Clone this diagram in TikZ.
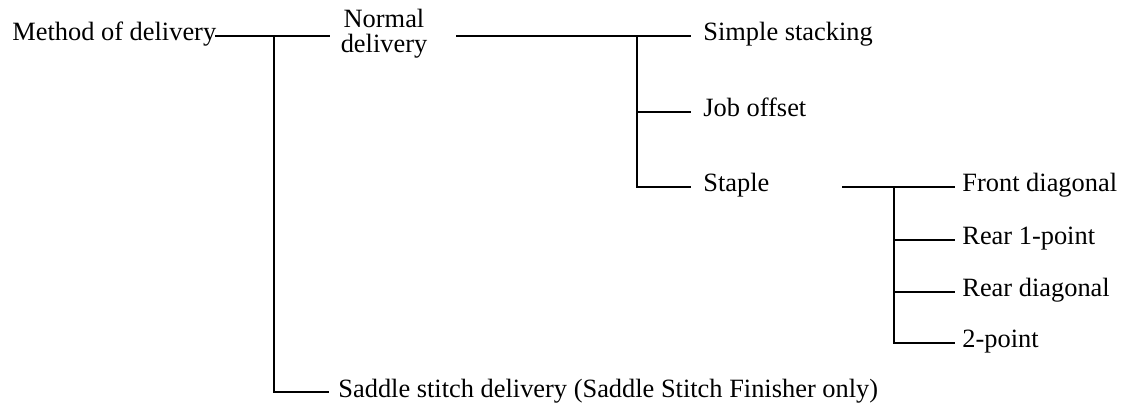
\documentclass[tikz,border=0pt]{standalone}
\usepackage{fontspec}
\setmainfont{Liberation Serif}
\begin{document}
\begin{tikzpicture}[x=0.5pt,y=-0.5pt,
  lbl/.style={font=\fontsize{13.2}{11.5}\selectfont, inner sep=0pt, anchor=base west},
  conn/.style={line width=1.1pt, line cap=rect}]
\useasboundingbox (0,0) rectangle (1125,406);
% labels
\node[lbl] (method) at (12,41) {Method of delivery};
\node[font=\fontsize{13.2}{12.6}\selectfont, inner sep=0pt, align=center] (normal) at (384,34) {Normal\\delivery};
\node[lbl] (simple) at (703,41) {Simple stacking};
\node[lbl] (job) at (703,117) {Job offset};
\node[lbl] (staple) at (703,192) {Staple};
\node[lbl] (front) at (962,192) {Front diagonal};
\node[lbl] (rear1) at (962,245) {Rear 1-point};
\node[lbl] (reard) at (962,297) {Rear diagonal};
\node[lbl] (two) at (962,348) {2-point};
\node[lbl] (saddle) at (338,397) {Saddle stitch delivery (Saddle Stitch Finisher only)};
% junctions and line ends
\coordinate (m1) at (216,36);
\coordinate (j1) at (274,36);
\coordinate (n1) at (329,36);
\coordinate (s1) at (328,392);
\coordinate (n2) at (457,36);
\coordinate (j2) at (637,36);
\coordinate (e2) at (690,36);
\coordinate (jo) at (690,112);
\coordinate (st) at (690,187);
\coordinate (t1) at (843,187);
\coordinate (j3) at (894,187);
\coordinate (f1) at (954,187);
\coordinate (r1) at (954,240);
\coordinate (rd) at (954,292);
\coordinate (tp) at (954,343);
% connectors
\draw[conn] (m1) -- (n1);
\draw[conn] (j1) |- (s1);
\draw[conn] (n2) -- (e2);
\draw[conn] (j2) |- (st);
\draw[conn] (j2 |- jo) -- (jo);
\draw[conn] (t1) -- (f1);
\draw[conn] (j3) |- (tp);
\draw[conn] (j3 |- r1) -- (r1);
\draw[conn] (j3 |- rd) -- (rd);
\end{tikzpicture}
\end{document}
